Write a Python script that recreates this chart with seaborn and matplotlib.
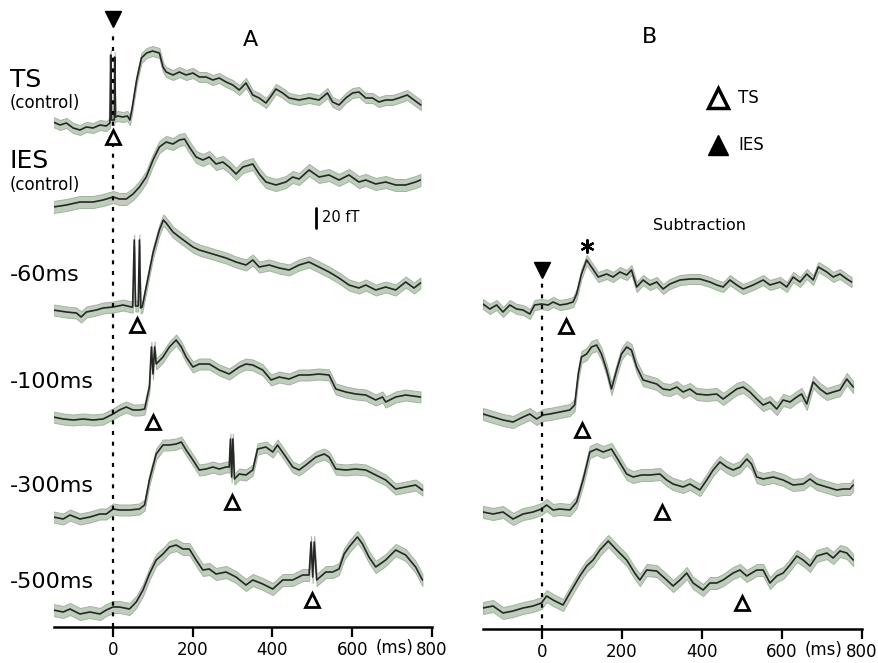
import matplotlib
matplotlib.use("Agg")
import matplotlib.pyplot as plt
import seaborn as sns
import pandas as pd

# ---- panel A traces: time (ms) and amplitude (fT) relative to each baseline ----
ts_t = [-149, -132, -116, -99, -82, -66, -49, -32, -16, -7, -5, -3, 4, 5, 7, 13, 25, 37, 43, 48,
        60, 72, 85, 100, 117, 126, 134, 151, 167, 184, 201, 217, 234, 251, 267, 284, 301, 317, 334, 351,
        367, 384, 397, 409, 426, 442, 467, 492, 517, 538, 551, 567, 584, 601, 617, 634, 651, 667, 684, 701,
        717, 738, 755, 772]
ts_a = [3, 0, 2, -3, -5, -2, -3, 0, -1, 2, 70, 5, 5, 68, 8, 9, 8, 9, 5, 15,
        45, 67, 72, 74, 72, 58, 53, 50, 53, 50, 52, 48, 48, 45, 47, 43, 40, 35, 42, 30,
        27, 22, 29, 36, 32, 27, 25, 27, 25, 32, 23, 20, 27, 32, 33, 27, 27, 23, 25, 25,
        27, 30, 25, 20]

ies_t = [-149, -116, -82, -49, -24, 1, 17, 34, 51, 67, 84, 101, 117, 134, 151, 167, 180, 192, 209, 226,
         242, 259, 276, 292, 309, 326, 351, 367, 384, 409, 434, 451, 467, 492, 517, 542, 567, 592, 617, 634,
         659, 684, 709, 734, 759, 771]
ies_a = [0, 2, 5, 5, 7, 10, 8, 8, 13, 20, 30, 47, 60, 65, 63, 67, 68, 60, 50, 47,
         50, 43, 45, 40, 33, 40, 43, 33, 25, 22, 25, 30, 28, 37, 30, 32, 27, 32, 25, 27,
         23, 25, 22, 22, 25, 27]

m60_t = [-149, -116, -91, -79, -66, -41, -24, 1, 26, 47, 50, 54, 57, 64, 67, 70, 74, 84, 101, 117,
         127, 134, 151, 167, 184, 201, 217, 234, 259, 284, 309, 334, 351, 367, 392, 417, 442, 467, 492, 517,
         542, 567, 592, 617, 634, 659, 684, 709, 734, 755, 771]
m60_a = [0, -2, -3, -7, -2, 0, 2, 3, 5, 3, 3, 70, 4, 4, 70, 2, 3, 23, 57, 80,
         90, 87, 78, 73, 68, 63, 60, 58, 55, 52, 48, 45, 50, 43, 45, 42, 40, 45, 48, 43,
         38, 32, 25, 22, 25, 20, 23, 20, 28, 22, 27]

m100_t = [-149, -124, -99, -74, -49, -24, 1, 17, 34, 51, 67, 80, 92, 97, 101, 105, 109, 126, 142, 159,
          172, 184, 201, 217, 242, 267, 292, 317, 334, 351, 376, 397, 417, 442, 467, 492, 517, 542, 559, 584,
          609, 634, 659, 676, 684, 709, 734, 771]
m100_a = [0, -2, -3, -2, -3, -2, 3, 7, 10, 7, 7, 8, 30, 70, 43, 70, 53, 60, 70, 77,
          70, 60, 50, 53, 53, 47, 43, 50, 53, 52, 47, 37, 40, 38, 42, 42, 43, 42, 28, 25,
          23, 22, 17, 20, 15, 20, 22, 20]

m300_t = [-149, -124, -107, -82, -57, -32, -16, 1, 17, 42, 67, 80, 92, 109, 126, 142, 159, 172, 184, 201,
          217, 234, 251, 267, 284, 292, 295, 298, 301, 305, 317, 334, 351, 363, 384, 401, 413, 434, 451, 467,
          484, 509, 530, 542, 559, 584, 609, 634, 659, 684, 709, 734, 759, 776]
m300_a = [0, -2, 2, -2, 0, 3, 3, 8, 7, 7, 8, 12, 37, 63, 72, 72, 73, 75, 67, 57,
          47, 48, 50, 48, 50, 50, 78, 40, 78, 38, 43, 42, 47, 68, 70, 65, 72, 60, 50, 47,
          52, 60, 63, 60, 48, 47, 48, 47, 42, 37, 28, 30, 32, 27]

m500_t = [-149, -124, -107, -82, -57, -32, -16, 1, 17, 42, 59, 76, 92, 109, 126, 142, 159, 176, 192, 209,
          226, 242, 259, 284, 309, 334, 351, 376, 401, 426, 451, 476, 492, 497, 501, 505, 511, 534, 551, 567,
          580, 592, 613, 626, 642, 659, 684, 709, 734, 759, 776]
m500_a = [2, 0, 3, -2, 0, -2, 2, 5, 5, 3, 10, 22, 38, 52, 58, 65, 67, 63, 63, 52,
          42, 43, 38, 40, 35, 27, 32, 28, 23, 32, 32, 37, 37, 70, 35, 70, 32, 40, 40, 43,
          58, 65, 75, 68, 55, 45, 52, 62, 57, 45, 32]

# ---- panel B (subtraction) traces ----
b60_t = [-147, -130, -113, -97, -80, -63, -47, -30, -18, -1, 16, 28, 45, 62, 78, 87, 99, 112, 124, 141,
         162, 178, 195, 212, 224, 237, 253, 270, 287, 303, 320, 345, 370, 395, 420, 437, 453, 470, 487, 503,
         528, 553, 570, 595, 612, 628, 645, 662, 678, 691, 712, 728, 745, 762, 774]
b60_a = [3, -2, 2, -5, 2, -2, -3, -7, 2, 3, 2, 5, 2, 3, 5, 13, 33, 47, 40, 30,
         33, 30, 35, 32, 37, 20, 27, 22, 25, 18, 23, 27, 28, 28, 25, 22, 20, 27, 22, 18,
         22, 27, 22, 25, 20, 30, 25, 33, 27, 40, 35, 30, 33, 28, 25]

b100_t = [-147, -122, -97, -72, -47, -30, -13, 3, 20, 45, 70, 82, 91, 99, 112, 124, 137, 149, 162, 174,
          187, 199, 212, 224, 237, 253, 270, 287, 303, 320, 337, 353, 370, 387, 412, 437, 453, 470, 487, 503,
          520, 537, 553, 570, 587, 603, 620, 637, 649, 662, 678, 695, 712, 728, 745, 762, 778]
b100_a = [3, 0, -3, -5, 0, 3, -2, 2, 3, 5, 7, 12, 43, 60, 63, 70, 72, 63, 47, 28,
          47, 63, 70, 67, 50, 37, 35, 33, 28, 27, 30, 25, 28, 23, 22, 23, 18, 23, 28, 30,
          25, 18, 12, 15, 8, 17, 15, 20, 23, 13, 35, 28, 23, 25, 27, 38, 30]

b300_t = [-147, -122, -97, -72, -47, -22, -1, 12, 28, 45, 70, 87, 103, 120, 137, 153, 174, 191, 212, 228,
          249, 270, 295, 312, 328, 353, 370, 395, 412, 428, 445, 462, 478, 495, 512, 524, 537, 553, 578, 603,
          628, 653, 670, 687, 712, 737, 753, 770, 778]
b300_a = [0, -2, 0, -7, -2, 0, 3, 7, 2, 3, 2, 10, 32, 60, 63, 60, 63, 52, 38, 35,
          37, 37, 38, 32, 28, 25, 28, 22, 32, 42, 50, 45, 42, 45, 53, 48, 35, 33, 35, 32,
          27, 28, 33, 28, 25, 22, 23, 23, 27]

b500_t = [-147, -122, -97, -72, -47, -22, -1, 12, 28, 53, 70, 95, 112, 128, 145, 166, 187, 212, 232, 245,
          262, 287, 312, 328, 345, 362, 378, 403, 420, 437, 453, 478, 495, 512, 537, 553, 570, 587, 603, 620,
          637, 653, 670, 687, 712, 728, 745, 762, 778]
b500_a = [0, 2, -5, -3, 0, 2, 5, 12, 8, 3, 15, 32, 42, 48, 58, 67, 58, 48, 35, 28,
          38, 37, 28, 22, 28, 35, 25, 18, 25, 25, 28, 35, 38, 32, 38, 38, 25, 32, 35, 43,
          52, 48, 42, 52, 55, 50, 57, 55, 48]

sem_a = [5, 6, 5.5, 5.5, 5.5, 6]
sem_b = [5, 6, 6, 6]

row_labels = ["-60ms", "-100ms", "-300ms", "-500ms"]
ts_times_a = [0, 60, 100, 300, 500]
ts_times_b = [60, 100, 300, 500]
x_ticks = [0, 200, 400, 600, 800]

# ---- layout (figure pixels) ----
W, H = 879, 663
LINE = "#262626"
BAND = "#bfcdbc"
BAND_EDGE = "#a3b3a0"

sns.set_style("white")
plt.rcParams['font.family'] = ['DejaVu Sans']
plt.rcParams['text.color'] = 'black'

fig = plt.figure(figsize=(W / 100, H / 100), dpi=100)


def fx(x, y):
    return x / W, 1 - y / H


def make_axes(x0, x1, yline):
    ax = fig.add_axes([x0 / W, (H - yline) / H, (x1 - x0) / W, yline / H])
    ax.set_xlim(-147, 800)
    ax.set_ylim(0, yline)
    ax.patch.set_alpha(0)
    sns.despine(ax=ax, left=True)
    ax.spines['bottom'].set_color('black')
    ax.spines['bottom'].set_linewidth(1.8)
    ax.set_yticks([])
    ax.set_xticks(x_ticks)
    ax.tick_params(axis='x', direction='out', length=7, width=1.6, labelsize=12,
                   pad=3, colors='black', bottom=True)
    return ax


def draw_trace(ax, t, amp, offset, sem):
    df = pd.DataFrame({'t': t, 'amp': amp})
    df['y'] = df['amp'] + offset
    ax.fill_between(df['t'], df['y'] - sem, df['y'] + sem, facecolor=BAND,
                    edgecolor=BAND_EDGE, lw=0.7, zorder=1)
    sns.lineplot(data=df, x='t', y='y', ax=ax, color=LINE, lw=1.2, sort=False,
                 estimator=None, zorder=2)
    ax.set_xlabel('')
    ax.set_ylabel('')


# panel A
yA = 627
axA = make_axes(54, 432, yA)
offsets_a = [yA - b for b in [125, 207, 310, 417, 517, 612]]
traces_a = [(ts_t, ts_a), (ies_t, ies_a), (m60_t, m60_a), (m100_t, m100_a),
            (m300_t, m300_a), (m500_t, m500_a)]
for (t, a), off, s in zip(traces_a, offsets_a, sem_a):
    draw_trace(axA, t, a, off, s)
axA.plot([0, 0], [0, yA - 32], color='black', lw=1.6, ls=(0, (1.8, 3)), zorder=3)
axA.plot([0], [yA - 19], marker='v', ms=11, color='black', clip_on=False, zorder=4)
tri_a = [yA - y for y in [137, 325, 422, 502, 600]]
for t, y in zip(ts_times_a, tri_a):
    axA.plot([t], [y], marker='^', ms=10, mfc='white', mec='black', mew=2, zorder=4)
axA.text(705, -21, "(ms)", ha='center', va='center', fontsize=12)

# panel B
yB = 629
axB = make_axes(483, 862, yB)
offsets_b = [yB - b for b in [307, 417, 512, 608]]
traces_b = [(b60_t, b60_a), (b100_t, b100_a), (b300_t, b300_a), (b500_t, b500_a)]
for (t, a), off, s in zip(traces_b, offsets_b, sem_b):
    draw_trace(axB, t, a, off, s)
axB.plot([0, 0], [0, yB - 283], color='black', lw=1.6, ls=(0, (1.8, 3)), zorder=3)
axB.plot([0], [yB - 270], marker='v', ms=11, color='black', zorder=4)
tri_b = [yB - y for y in [326, 430, 512, 603]]
for t, y in zip(ts_times_b, tri_b):
    axB.plot([t], [y], marker='^', ms=10, mfc='white', mec='black', mew=2, zorder=4)
axB.plot([112], [yB - 246], marker=(6, 2, 0), ms=10, mew=1.6, color='black', zorder=4)
axB.text(705, -21, "(ms)", ha='center', va='center', fontsize=12)

# texts
fig.text(*fx(250, 40), "A", fontsize=16, ha='center', va='center')
fig.text(*fx(650, 37), "B", fontsize=16, ha='center', va='center')
fig.text(*fx(10, 80), "TS", fontsize=18, ha='left', va='center')
fig.text(*fx(10, 103), "(control)", fontsize=12, ha='left', va='center')
fig.text(*fx(10, 161), "IES", fontsize=18, ha='left', va='center')
fig.text(*fx(10, 185), "(control)", fontsize=12, ha='left', va='center')
for lab, y in zip(row_labels, [275, 382, 486, 582]):
    fig.text(*fx(10, y), lab, fontsize=16, ha='left', va='center')
fig.text(*fx(700, 225), "Subtraction", fontsize=11.5, ha='center', va='center')

# scale bar
fig.add_artist(plt.Line2D([316 / W, 316 / W], [1 - 208 / H, 1 - 228 / H], color='black', lw=2))
fig.text(*fx(322, 218), "20 fT", fontsize=10.5, ha='left', va='center')

# legend
fig.add_artist(plt.Line2D([718 / W], [1 - 98 / H], marker='^', ms=15, mfc='white',
                          mec='black', mew=2.5, ls='none'))
fig.add_artist(plt.Line2D([718 / W], [1 - 145 / H], marker='^', ms=15, color='black', ls='none'))
fig.text(*fx(738, 98), "TS", fontsize=12, ha='left', va='center')
fig.text(*fx(738, 145), "IES", fontsize=12, ha='left', va='center')

fig.savefig("out.png", dpi=100)
